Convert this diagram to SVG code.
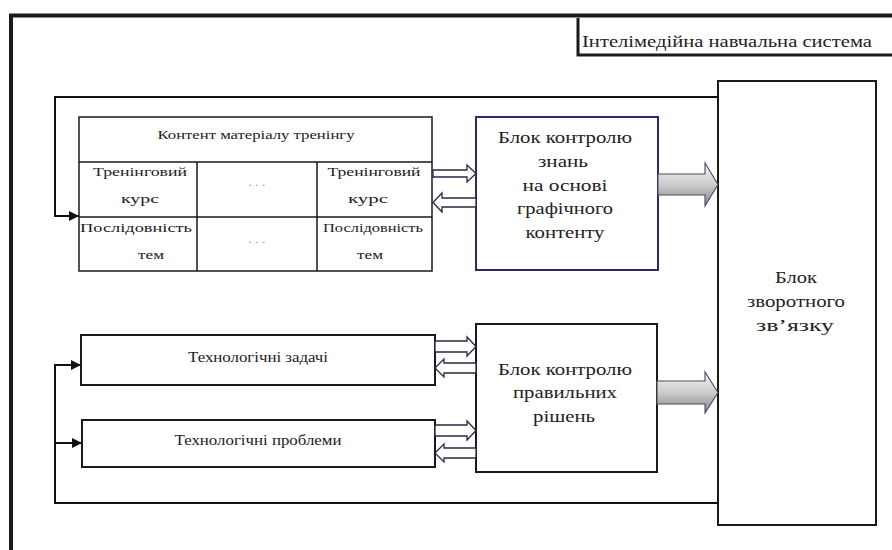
<svg xmlns="http://www.w3.org/2000/svg" width="892" height="550" viewBox="0 0 892 550">
  <defs>
    <style>
      .t { font-family: "Liberation Serif", "Times New Roman", serif; fill: #222; text-anchor: middle; }
      .big { font-size: 16.5px; }
      .mid { font-size: 14px; }
      .sm { font-size: 13.5px; }
      .box { fill: #fff; stroke: #1a1a1a; stroke-width: 2; }
      .cell { fill: none; stroke: #1a1a1a; stroke-width: 1.5; }
      .wire { fill: none; stroke: #111; stroke-width: 2; }
      .dbl { fill: #fff; stroke: #2a2a44; stroke-width: 1.3; }
      .fat { fill: url(#shade); stroke: #4a4a66; stroke-width: 1.1; }
      .dots { fill: #9a9a9a; }
    </style>
    <linearGradient id="shade" x1="0" y1="0" x2="0" y2="1">
      <stop offset="0" stop-color="#f4f4f4"/>
      <stop offset="0.5" stop-color="#cdcdcd"/>
      <stop offset="1" stop-color="#858585"/>
    </linearGradient>
    <marker id="tip" viewBox="0 0 10 10" refX="10" refY="5" markerWidth="5" markerHeight="5" orient="auto" markerUnits="strokeWidth">
      <path d="M0 0 L10 5 L0 10 Z" fill="#111"/>
    </marker>
  </defs>

  <rect width="892" height="550" fill="#fff"/>

  <!-- outer system frame -->
  <path d="M11 550 V15.5 H892" fill="none" stroke="#1a1a1a" stroke-width="4"/>

  <!-- system caption -->
  <g id="caption">
    <path d="M578 18 V55 H892" fill="none" stroke="#1a1a1a" stroke-width="3"/>
    <text class="t big" x="727" y="47" textLength="290" lengthAdjust="spacingAndGlyphs">Інтелімедійна навчальна система</text>
  </g>

  <!-- training content table -->
  <g id="content-table">
    <rect x="79" y="117" width="353" height="154" fill="#fff" class="cell"/>
    <path class="cell" d="M79 162 H432 M79 217 H432 M197 162 V271 M317 162 V271"/>
    <text class="t sm" x="256" y="139" textLength="197" lengthAdjust="spacingAndGlyphs">Контент матеріалу тренінгу</text>
    <text class="t sm" x="140" y="176" textLength="94" lengthAdjust="spacingAndGlyphs">Тренінговий</text>
    <text class="t sm" x="140" y="203" textLength="38" lengthAdjust="spacingAndGlyphs">курс</text>
    <text class="t sm dots" x="257" y="186">. . .</text>
    <text class="t sm" x="374" y="176" textLength="93" lengthAdjust="spacingAndGlyphs">Тренінговий</text>
    <text class="t sm" x="368" y="203" textLength="40" lengthAdjust="spacingAndGlyphs">курс</text>
    <text class="t sm" x="136" y="232" textLength="112" lengthAdjust="spacingAndGlyphs">Послідовність</text>
    <text class="t sm" x="151" y="259" textLength="26" lengthAdjust="spacingAndGlyphs">тем</text>
    <text class="t sm dots" x="257" y="243">. . .</text>
    <text class="t sm" x="373" y="232" textLength="100" lengthAdjust="spacingAndGlyphs">Послідовність</text>
    <text class="t sm" x="370" y="259" textLength="26" lengthAdjust="spacingAndGlyphs">тем</text>
  </g>

  <!-- knowledge control block -->
  <g id="knowledge-control">
    <rect x="476" y="117" width="182" height="153" fill="#fff" stroke="#2b2b6a" stroke-width="2"/>
    <text class="t big" x="565" y="143" textLength="134" lengthAdjust="spacingAndGlyphs">Блок контролю</text>
    <text class="t big" x="563" y="167" textLength="50" lengthAdjust="spacingAndGlyphs">знань</text>
    <text class="t big" x="565" y="191" textLength="85" lengthAdjust="spacingAndGlyphs">на основі</text>
    <text class="t big" x="565" y="214" textLength="96" lengthAdjust="spacingAndGlyphs">графічного</text>
    <text class="t big" x="565" y="238" textLength="79" lengthAdjust="spacingAndGlyphs">контенту</text>
  </g>

  <!-- technological tasks -->
  <g id="tech-tasks">
    <rect x="81" y="335" width="354" height="50" class="box"/>
    <text class="t mid" x="258" y="362" textLength="140" lengthAdjust="spacingAndGlyphs">Технологічні задачі</text>
  </g>

  <!-- technological problems -->
  <g id="tech-problems">
    <rect x="82" y="420" width="353" height="47" class="box"/>
    <text class="t mid" x="258" y="445" textLength="167" lengthAdjust="spacingAndGlyphs">Технологічні проблеми</text>
  </g>

  <!-- solution control block -->
  <g id="solution-control">
    <rect x="476" y="324" width="181" height="148" class="box"/>
    <text class="t big" x="565" y="375" textLength="134" lengthAdjust="spacingAndGlyphs">Блок контролю</text>
    <text class="t big" x="565" y="398" textLength="104" lengthAdjust="spacingAndGlyphs">правильних</text>
    <text class="t big" x="564" y="422" textLength="62" lengthAdjust="spacingAndGlyphs">рішень</text>
  </g>

  <!-- feedback block -->
  <g id="feedback">
    <rect x="718" y="81" width="158" height="444" class="box"/>
    <text class="t big" x="796" y="283" textLength="42" lengthAdjust="spacingAndGlyphs">Блок</text>
    <text class="t big" x="796" y="307" textLength="98" lengthAdjust="spacingAndGlyphs">зворотного</text>
    <text class="t big" x="795" y="331" textLength="78" lengthAdjust="spacingAndGlyphs">зв’язку</text>
  </g>

  <!-- connectors -->
  <g id="connectors">
    <!-- feedback loops -->
    <path class="wire" d="M718 97 H55 V216 H79" marker-end="url(#tip)"/>
    <path class="wire" d="M718 503 H55 V365 H81" marker-end="url(#tip)"/>
    <path class="wire" d="M56 443 H82" marker-end="url(#tip)"/>

    <!-- table <-> knowledge control -->
    <path class="dbl" d="M433 170 H467 V165 L476 173.5 L467 182 V177 H433 Z"/>
    <path class="dbl" d="M476 198 H442 V193 L433 202.5 L442 212 V207 H476 Z"/>

    <!-- tasks <-> solution control -->
    <path class="dbl" d="M435 341 H467 V337 L476 346.5 L467 356 V352 H435 Z"/>
    <path class="dbl" d="M476 363 H444 V359 L435 368 L444 377 V373 H476 Z"/>

    <!-- problems <-> solution control -->
    <path class="dbl" d="M435 425 H467 V421 L476 430.5 L467 440 V436 H435 Z"/>
    <path class="dbl" d="M476 448 H444 V444 L435 453 L444 462 V458 H476 Z"/>

    <!-- block outputs to feedback -->
    <path class="fat" d="M658 174 H705 V163 L718 184.5 L705 206 V195 H658 Z"/>
    <path class="fat" d="M657 381 H705 V372 L718 392.5 L705 413 V404 H657 Z"/>
  </g>
</svg>
